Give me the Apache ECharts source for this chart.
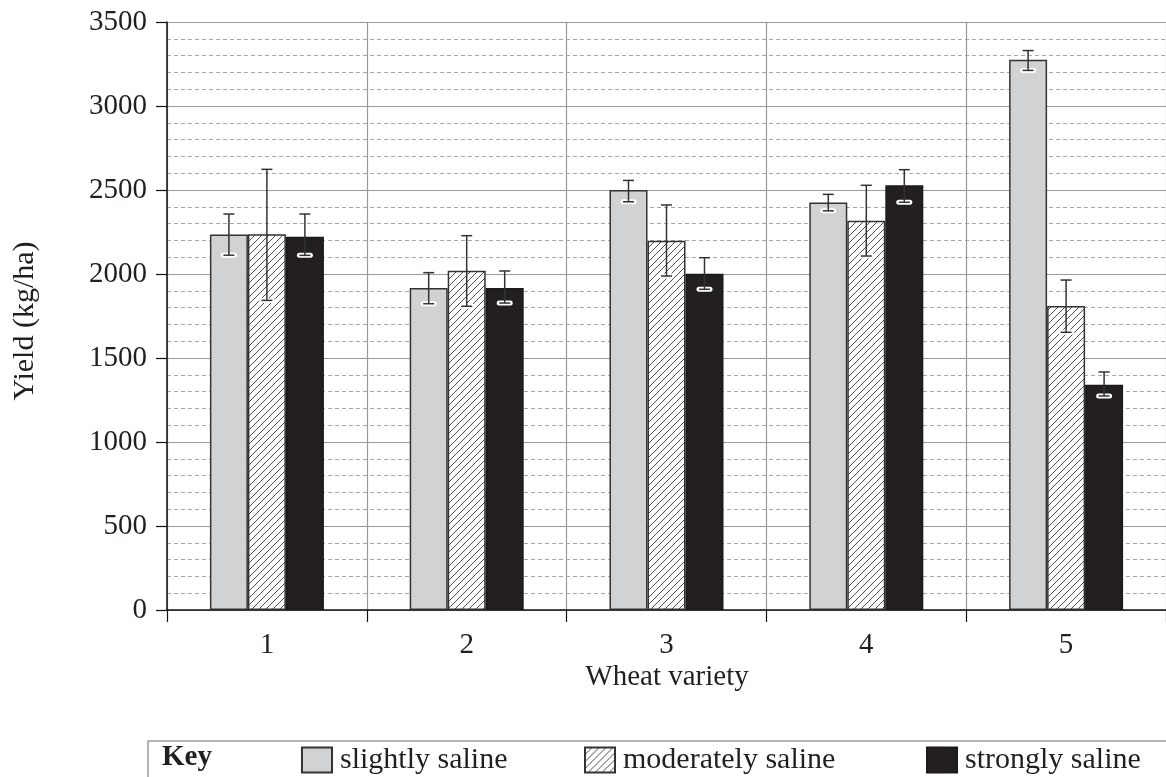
<!DOCTYPE html>
<html>
<head>
<meta charset="utf-8">
<script src="https://cdn.jsdelivr.net/npm/echarts@6/dist/echarts.min.js"></script>
<style>
  html, body { margin: 0; padding: 0; background: #fff; }
  #chart { width: 1166px; height: 777px; }
</style>
</head>
<body>
<div id="chart"></div>
<script>
// Wheat yield by variety under three salinity levels (mean with error range)
const varieties = ['1', '2', '3', '4', '5'];
const seriesNames = ['slightly saline', 'moderately saline', 'strongly saline'];

const slightlyYield   = [2235, 1917, 2500, 2425, 3275];
const slightlyLow     = [2112, 1823, 2430, 2376, 3212];
const slightlyHigh    = [2357, 2008, 2557, 2474, 3330];

const moderatelyYield = [2236, 2020, 2198, 2317, 1810];
const moderatelyLow   = [1843, 1808, 1988, 2107, 1653];
const moderatelyHigh  = [2623, 2228, 2411, 2528, 1964];

const stronglyYield   = [2222, 1917, 2002, 2528, 1341];
const stronglyLow     = [2111, 1827, 1909, 2427, 1274];
const stronglyHigh    = [2357, 2018, 2097, 2621, 1417];

const yTicks = { min: 0, max: 3500, interval: 500 };

const FONT = '"Liberation Serif", "DejaVu Serif", serif';
const INK = '#231f20';

// diagonal hatch tile for the moderately saline bars
function hatchPattern() {
  const s = 7;
  const c = document.createElement('canvas');
  c.width = s; c.height = s;
  const g = c.getContext('2d');
  g.fillStyle = '#fff';
  g.fillRect(0, 0, s, s);
  g.strokeStyle = '#3a3a3a';
  g.lineWidth = 0.9;
  g.beginPath();
  g.moveTo(0, s); g.lineTo(s, 0);
  g.moveTo(-2, 2); g.lineTo(2, -2);
  g.moveTo(s - 2, s + 2); g.lineTo(s + 2, s - 2);
  g.stroke();
  return c;
}

const BAR_W = 38;

function errorSeries(low, high, offset) {
  return {
    type: 'custom',
    coordinateSystem: 'cartesian2d',
    z: 10,
    silent: true,
    data: low.map((v, i) => [i, v, high[i]]),
    encode: { x: 0, y: [1, 2] },
    renderItem: function (params, api) {
      const i = api.value(0);
      const lo = api.coord([i, api.value(1)]);
      const hi = api.coord([i, api.value(2)]);
      const x = lo[0] + offset;
      const h = 5.5;
      return {
        type: 'group',
        children: [
          { type: 'line', shape: { x1: x - h, y1: lo[1], x2: x + h, y2: lo[1] },
            style: { stroke: '#fff', lineWidth: 5, lineCap: 'round' } },
          { type: 'line', shape: { x1: x, y1: hi[1], x2: x, y2: lo[1] },
            style: { stroke: '#333', lineWidth: 1.5 } },
          { type: 'line', shape: { x1: x - h, y1: hi[1], x2: x + h, y2: hi[1] },
            style: { stroke: '#333', lineWidth: 1.5 } },
          { type: 'line', shape: { x1: x - h, y1: lo[1], x2: x + h, y2: lo[1] },
            style: { stroke: '#333', lineWidth: 1.5 } }
        ]
      };
    }
  };
}

const chart = echarts.init(document.getElementById('chart'), null, { renderer: 'canvas' });

const legendText = { fontFamily: FONT, fontSize: 30, color: INK, padding: [0, 0, 0, 3] };
const legendBase = { top: 740, itemWidth: 30, itemHeight: 25, icon: 'rect', textStyle: legendText, selectedMode: false };

const option = {
  animation: false,
  backgroundColor: '#fff',
  grid: { left: 167, top: 22, width: 1003, height: 588, containLabel: false },
  xAxis: {
    type: 'category',
    data: varieties,
    boundaryGap: true,
    axisLine: { show: true, lineStyle: { color: '#111', width: 1.5 } },
    axisTick: { show: true, length: 12, lineStyle: { color: '#111', width: 1.2 } },
    axisLabel: { fontFamily: FONT, fontSize: 29, color: INK, margin: 21 },
    splitLine: { show: true, lineStyle: { color: '#9a9a9a', width: 1.2 } }
  },
  yAxis: {
    type: 'value',
    min: yTicks.min,
    max: yTicks.max,
    interval: yTicks.interval,
    axisLine: { show: true, lineStyle: { color: '#111', width: 1.5 } },
    axisTick: { show: true, length: 11, lineStyle: { color: '#111', width: 1.2 } },
    axisLabel: { fontFamily: FONT, fontSize: 29, color: INK, margin: 20, formatter: v => String(v) },
    splitLine: { show: true, lineStyle: { color: '#9a9a9a', width: 1.2 } },
    minorTick: { show: false, splitNumber: 5 },
    minorSplitLine: { show: true, lineStyle: { color: '#a8a8a8', width: 1, type: [4, 3] } }
  },
  legend: [
    Object.assign({ data: [seriesNames[0]], left: 296 }, legendBase),
    Object.assign({ data: [seriesNames[1]], left: 579 }, legendBase),
    Object.assign({ data: [seriesNames[2]], left: 921 }, legendBase)
  ],
  graphic: [
    { type: 'rect', shape: { x: 148, y: 741, width: 1040, height: 60 },
      style: { fill: 'none', stroke: '#9a9a9a', lineWidth: 1.5 }, z: 0 },
    { type: 'text', x: 162, y: 758,
      style: { text: 'Key', font: 'bold 29px ' + FONT, fill: INK, textVerticalAlign: 'middle' } },
    { type: 'text', x: 667, y: 677,
      style: { text: 'Wheat variety', font: '29px ' + FONT, fill: INK, textAlign: 'center', textVerticalAlign: 'middle' } },
    { type: 'text', x: 25, y: 321, rotation: Math.PI / 2,
      style: { text: 'Yield (kg/ha)', font: '30px ' + FONT, fill: INK, textAlign: 'center', textVerticalAlign: 'middle' } }
  ],
  series: [
    { name: seriesNames[0], type: 'bar', data: slightlyYield, barWidth: BAR_W, barGap: '0%', z: 3,
      itemStyle: { color: '#d1d2d4', borderColor: '#333', borderWidth: 1.5 } },
    { name: seriesNames[1], type: 'bar', data: moderatelyYield, barWidth: BAR_W, barGap: '0%', z: 3,
      itemStyle: { color: { image: hatchPattern(), repeat: 'repeat' }, borderColor: '#333', borderWidth: 1.5 } },
    { name: seriesNames[2], type: 'bar', data: stronglyYield, barWidth: BAR_W, barGap: '0%', z: 3,
      itemStyle: { color: INK, borderColor: '#1a1a1a', borderWidth: 1.5 } },
    errorSeries(slightlyLow, slightlyHigh, -BAR_W),
    errorSeries(moderatelyLow, moderatelyHigh, 0),
    errorSeries(stronglyLow, stronglyHigh, BAR_W)
  ]
};

chart.setOption(option);
</script>
</body>
</html>
